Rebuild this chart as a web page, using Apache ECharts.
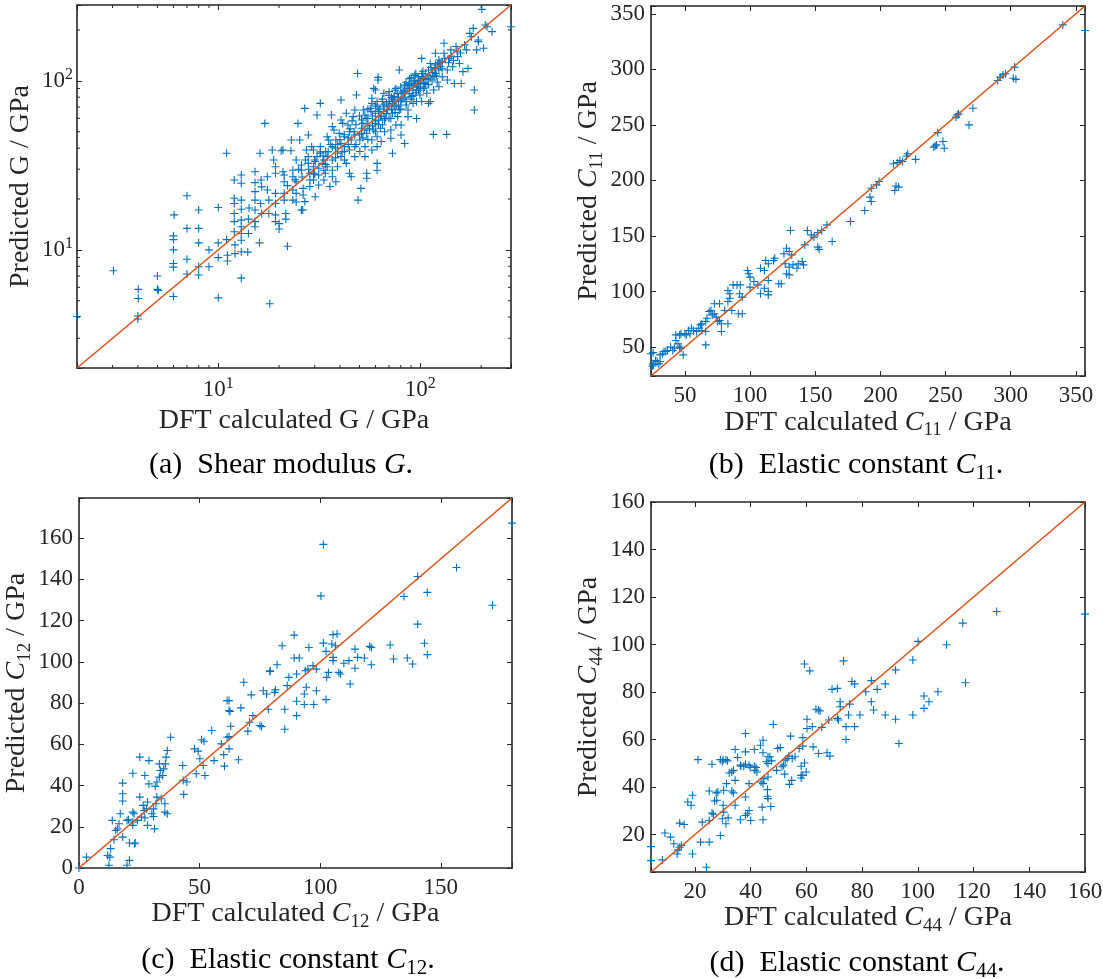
<!DOCTYPE html>
<html><head><meta charset="utf-8">
<script src="https://cdn.jsdelivr.net/npm/echarts@6/dist/echarts.min.js"></script>
<style>html,body{margin:0;padding:0;background:#fff}#c{width:1103px;height:979px}</style>
</head><body><div id="c"></div>
<script>
// ---------------- DATA ----------------
// (a) Shear modulus G : [DFT calculated, predicted] (GPa)
const pointsG = [[2,4.03],[3.03,7.53],[4.02,5.84],[4.02,5.16],[4,4.06],[4,3.9],[5,7],[5,5.84],[5.05,5.75],[6.05,16.1],[6,12.1],[6,11.5],[6,10],[6,8.3],[6,7.9],[6,5.3],[7,20.9],[7,13.4],[7,8.8],[7,7.2],[8,17.2],[8,13.4],[8,11],[8,7.95],[8,7.1],[9,10],[9,7.95],[10,17.8],[10,11],[10,9],[10,5.2],[11,37.3],[11,11.5],[11.1,9.3],[11.1,8.6],[12,25.9],[12,20.2],[12,18.8],[12,16.4],[12,14.7],[12,12.8],[12.1,10.7],[12.1,9.5],[13,27.7],[13,24.8],[13,19.7],[13,17.4],[13,15],[13,13.7],[13,12.5],[13,11.4],[13,9.75],[13,6.8],[14.1,15.2],[14.1,12.5],[14,9.7],[14.2,17.7],[15.2,29],[15.2,25],[15.2,22.1],[15.2,19.7],[15.2,17.2],[15.2,14.7],[15.2,13.7],[16.1,37.3],[16,11],[16.3,25.9],[16.4,23.6],[16.2,18.8],[16.4,16.4],[17,56],[17.5,27.1],[17.5,22.6],[17.8,19.7],[17.8,16.4],[18,4.8],[18.5,39],[18.8,34],[19.2,31],[19.2,28.4],[19.2,21.6],[19.2,18.8],[19.2,16.1],[19.2,14.7],[20,14.3],[20,13.3],[20.5,38.6],[20.9,39],[20.9,29],[21.2,27.7],[21.2,25.3],[21.2,21.6],[21.2,19.7],[21.6,16.4],[21.6,15.2],[22,10.5],[22.9,38.6],[23,44.7],[23.4,29.6],[23.4,27.1],[23.4,22.6],[23.4,19.7],[24.3,34],[24.3,25.3],[24.3,21.6],[24.3,19.2],[24.8,56],[25.3,44.7],[25.8,31.8],[25.8,29.6],[25.8,17.2],[26.2,17.2],[26.3,23.1],[26.3,21.1],[26.8,19.3],[26.8,68.7],[27.3,39],[27.9,47.8],[27.9,35.6],[27.9,32.5],[28.4,28.4],[28.4,25.9],[28.4,23.7],[29,40.8],[29.6,39],[29.6,31],[29.6,28.4],[29.6,25.9],[30.2,20.6],[30.2,33.3],[30.8,35.6],[30.8,62.8],[31.4,30.4],[31.4,27.7],[31.4,24.2],[32,73.6],[32,40.8],[32,37.3],[32.7,32.5],[33.3,29.6],[33.3,34],[33.3,25.9],[33.9,28.4],[34,38.2],[34.6,35.6],[34.6,31],[34.6,46.7],[35.2,44.7],[35.7,23.7],[36.3,62.8],[36.7,53.6],[36.7,40.8],[36.7,34],[36.7,29.6],[36.7,27.1],[37.4,51.2],[38.2,25.3],[38.2,44.7],[38.9,37.3],[38.9,31],[39.7,48.9],[40.5,42.6],[40.5,35.6],[40.5,58.6],[41.3,56],[40.5,77],[42.1,46.7],[42.1,40.8],[42.1,38.2],[42.1,34],[43,32.5],[43,64.3],[43.8,54.8],[44.6,39],[44.6,28.4],[45.5,27.1],[44.6,50],[45.5,44.7],[46.5,61.4],[47.4,67.2],[47.4,47.8],[47.4,40.8],[47.4,35.6],[48.3,82.5],[48.9,110.6],[49.2,19.7],[50.8,23.1],[50.2,44.7],[50.2,38.2],[51.2,58.6],[51.2,52.4],[51.2,49],[52.2,67.2],[53.2,62.8],[53.2,40.8],[53.2,35.6],[54.3,26.5],[54.3,28.4],[54.3,49],[55,54.8],[55,59.9],[56.5,68.7],[57.6,73.6],[57.6,78.9],[57.6,44.7],[57.6,39],[58.8,51.2],[59.9,56],[58.8,90.2],[59.9,88.3],[59.9,64.3],[61.1,70.2],[61.1,75.4],[61.1,46.7],[61.1,40.8],[61.1,29.6],[61.1,32.5],[61.8,104.9],[61.8,101.2],[62.3,58.6],[63.5,52.4],[63.5,61.4],[64,43.8],[64.7,75.4],[66,84.4],[66,72],[66,65.8],[66.5,58.6],[66.5,50],[68.8,67.2],[70,75.4],[70,86.3],[71.5,45.7],[71.5,51.2],[71.5,59.9],[72.8,64.3],[72.8,37.3],[72.8,73.6],[74.3,70.2],[74.3,80.7],[75.7,90.2],[75.7,54.8],[77.2,61.4],[78.7,115.9],[78.7,67.2],[80.3,75.4],[80.3,84.4],[80.3,54.8],[80.3,47.8],[83.6,94.3],[83.6,84.4],[85.2,75.4],[83.6,42.6],[86.9,67.2],[86.9,61.4],[88.5,103],[88.5,90.2],[90.3,80.7],[92.1,73.6],[94,107.8],[94,98.5],[95.8,88.3],[95.8,75.4],[95.8,59.9],[97.7,105.5],[99.6,101.2],[97.7,92.2],[99.6,82.5],[101.6,110.6],[103.5,103],[101.6,75.4],[103.5,90.2],[105.6,96.4],[107.7,84.4],[109.8,73.6],[112,75.4],[109.8,115.9],[112,126.7],[101.6,135.8],[114.3,101.2],[116.4,88.3],[116,48.2],[118.8,145.6],[118.8,124.2],[118.8,110.6],[121.2,98.5],[123.6,92.2],[123.6,132.8],[123.6,115.9],[126,121.2],[128.5,105.5],[128.5,129.8],[131,145.6],[131,166.8],[135,48.2],[136,115.9],[136,101.2],[139,135.8],[141.6,152.4],[144.5,121.2],[147.3,96.4],[150.2,159.6],[153,139],[156,126.7],[159.2,96.4],[162.5,113.3],[165.6,163.2],[169,152.4],[172.2,118.5],[175.8,191],[179,182.4],[182.8,204.5],[185,88.3],[185,67.2],[190,152.4],[193.6,174.4],[193.6,170.5],[201.4,264.8],[205.6,155.9],[209.5,213.8],[213.8,209],[226.5,195.4],[281,209],
  // dense core along the diagonal (estimated from overlapping markers)
  [45,52],[48,55],[50,48],[52,56],[54,60],[56,52],[58,62],[60,58],[62,66],[64,62],[66,70],[68,64],[70,72],[72,68],[74,78],[76,72],[78,80],[80,76],[82,86],[84,80],[86,90],[88,84],[90,94],[92,88],[94,96],[96,92],[98,100],[100,96],[102,106],[104,98],[106,110],[108,102],[110,108],[112,104],[115,112],[118,118],[120,108],[125,128],[55,45],[60,50],[65,55],[70,60],[75,65],[80,68],[85,72],[90,78],[95,85],[100,90],[105,92],[110,95],[46,58],[50,62],[55,68],[60,72],[65,78],[70,82],[75,88],[80,92],[85,98],[90,105],[95,110],[38,40],[40,45],[42,48],[44,42],[35,38],[36,42],[33,36],[30,34],[28,30],[26,27],[24,26],[22,24],[30,28],[34,32],[38,35],[25,30],[27,34],[32,38],[57,66],[63,68],[67,60],[73,76],[77,84],[82,78],[87,94],[93,100],[97,96],[103,114],[113,120],[117,106],[122,126],[128,118],[132,136],[138,128],[142,140],[146,132],[152,150],[158,146],[52,46],[48,42],[44,46],[41,38],[39,42],[47,50],[53,51],[58,54],[62,55],[68,74],[72,80],[78,71],[84,88],[88,96],[92,82],[98,88]];

// (b) Elastic constant C11
const pointsC11 = [[340,340],[357,335],[303,302],[302,292],[304,291],[290,290],[292,293],[294,295],[296,296],[271,265],[268,250],[259,259],[260,260],[258,257],[244,243],[241,230],[242,231],[243,232],[248,235],[249,229],[227,219],[221,224],[220,222],[217,217],[210,215],[213,216],[215,218],[212,195],[214,194],[211,191],[199,199],[197,196],[193,193],[192,185],[193,181],[188,173],[177,163],[163,145],[159,160],[155,155],[152,153],[144,155],[147,151],[149,149],[152,140],[153,138],[142,142],[131,155],[128,139],[130,136],[132,133],[127,125],[130,122],[133,124],[137,125],[140,127],[141,124],[136,121],[128,116],[130,115],[126,134],[122,107],[124,107],[118,128],[119,130],[112,128],[114,125],[111,119],[108,121],[114,110],[114,100],[114,97],[111,103],[108,98],[103,109],[106,106],[99,116],[100,113],[98,119],[100,104],[92.5,106],[90,106],[87,106],[92,98],[94,95],[91,80],[94,80],[83,101],[84.5,98],[84.5,94],[83,91],[86,83],[83,71],[80.5,83],[76.6,89],[72.6,89],[72.6,80],[74,77],[76.6,74],[78,64],[75,73],[78,71],[68.6,82],[71,79],[70,83],[66,73],[67,76],[66,52],[63,71],[62,70],[63,65],[66,64],[60.6,67],[59,64],[56.6,65],[55,67],[54,62],[52.7,65],[51,61],[50,62],[47,62],[46,61],[48.7,43],[46,50],[47,49],[43,61],[43,56],[44.7,53],[42,49],[39,50],[40.7,47],[36.7,47],[35.4,46],[34,46],[32.8,44],[31,43],[31,37],[28.8,37],[30,35],[26,34],[25,33],[24,44],[25.6,45],[27.5,38],[25.6,35]];

// (c) Elastic constant C12
const pointsC12 = [[179.5,167.3],[101.3,157],[100.3,132],[156.5,145.8],[140.4,141.4],[134.7,131.7],[144.4,133.7],[171.4,127.5],[140.4,118.3],[143.2,109],[144.4,103.5],[129,108.2],[130.4,101.4],[136.1,101.9],[138.3,99],[120.5,107.5],[121.2,107],[121.2,98.6],[114.4,106.2],[114.4,96.9],[115.5,102.2],[118.3,101.9],[112.4,89.3],[111.9,100.6],[109.8,99.3],[107.7,94.9],[108.4,94.1],[107,113.5],[105.3,113.2],[104.8,108.7],[106.3,107.8],[101.3,109.1],[102.4,105.1],[105.3,102.2],[105.3,100.6],[102.7,92.5],[103.4,94.9],[102.4,81.7],[98.4,86],[97.3,79.3],[98.4,96.5],[97,98.2],[94.9,96.5],[93.8,95.7],[95.3,107],[91.3,101.9],[89.2,101.9],[89.2,113],[84.2,107.8],[82.1,98.6],[79.2,95.7],[79.2,95.3],[90.2,94.1],[87,92.5],[94.2,87.7],[93.4,84.4],[90.2,80.9],[93.4,79.3],[90.2,73.9],[86.3,88.5],[81.4,86.4],[81.1,85.2],[76.4,86],[77.8,84.4],[85.3,77],[85.3,67.3],[78.5,77],[71.4,84],[68.3,90.1],[67.1,77.7],[72.1,73.9],[75,69.1],[75.7,68.6],[70.7,70.7],[70,66.4],[66.1,52.5],[61.4,81.2],[62.2,81.2],[62.2,76.4],[62.6,75.9],[62.9,68.8],[62.2,63.8],[61.4,63.4],[62.2,57.8],[60,55],[60.3,49.4],[59,60.2],[55,66.7],[56,52.1],[50.8,62.2],[51.8,61.5],[49.4,56.7],[50.1,53],[51.5,49.7],[52.2,44.9],[47.9,57.8],[48.6,45.7],[43,49.7],[43.4,35.7],[44.7,41.7],[43.2,42.5],[38,63.4],[36.6,57],[36.1,53.8],[35.8,50.5],[35.1,48.1],[34.7,44.9],[33.7,47.3],[33.3,50.5],[33.3,44.1],[34.1,33.6],[35.6,31.2],[35.6,27.1],[36.6,26.3],[29,52.1],[25.2,53.8],[27.3,44.9],[32.3,41.7],[31.6,39.6],[29,40.8],[32.3,34.4],[31.9,31.2],[30.9,28.7],[30.2,26.3],[30.9,25],[31.3,19],[28.4,32],[28,28.7],[26.6,30.4],[27,27.9],[25.2,34.4],[27.3,24.4],[28.4,20.7],[25.9,24.7],[24.2,23.1],[22.3,27.1],[22.8,26.3],[22.3,22.3],[22.3,20.7],[22.3,46],[23,11.8],[23.3,12.1],[20.9,12.1],[20.9,3.7],[19.9,1.3],[19.9,23.1],[20.5,23.4],[18.1,41.2],[18.1,36],[18.1,32.5],[18.1,15],[17.1,26.3],[16.6,21.5],[15.9,19],[15.2,18.2],[13.8,23.1],[14.5,13.7],[13.1,9.4],[12.8,5.3],[11.9,6.1],[12.4,1.3],[3.1,5.3],[0,0]];

// (d) Elastic constant C44
const pointsC44 = [[160,112.8],[128.3,113.9],[116.1,109],[117.1,83.9],[110.3,99.9],[100.1,101.3],[98.2,93.5],[98.2,70.3],[107.2,80.1],[104,75.9],[102.2,78.3],[102.2,73.1],[92,89.3],[92,68.5],[93.2,58.3],[88.3,83.4],[88.3,70.3],[85.4,81.1],[84.1,72.4],[83.3,75.9],[83.3,84.8],[81.3,80.1],[79.2,70.3],[77.3,83.4],[76.3,84.4],[77.3,65.4],[75.1,70.3],[75.5,74.9],[74.2,60],[74.2,65.4],[73.3,93.1],[72.1,75.9],[72.1,73.8],[71.1,81.5],[71.1,68.9],[71.5,68.2],[69.2,81.1],[68,68.2],[68.4,53],[67.4,54.4],[64.3,72.4],[64.9,72],[63.4,72.7],[65.5,65.1],[64.3,54.1],[62.4,56.9],[62.1,65.4],[61.2,88.9],[59.3,91.8],[60.2,68.5],[60.2,64.6],[58.7,60.8],[58.7,57.2],[59.3,50.1],[59.9,46.3],[58.1,48.7],[58.1,44.9],[58.1,43.8],[58.7,44.9],[57.4,56.2],[55.9,52.7],[54.9,52],[54.3,61.4],[54.7,42.8],[53.9,41.1],[53.7,53],[53.1,52],[52.4,51.3],[52.2,45.4],[51.2,48.5],[51.8,49.2],[50.6,56.6],[49.7,56.2],[49.3,47],[48.1,66.3],[46.9,52.7],[47.5,51],[46.2,52.7],[46.2,49.9],[45.6,50.6],[46.2,44.2],[46,38.9],[46.2,35.1],[46,36.1],[47.2,31.8],[44.4,59.7],[43.5,57.6],[44.7,43.5],[43.7,42.1],[44.4,41.4],[44.1,31.5],[44.4,26.2],[44.4,54.4],[41.3,55.8],[41.3,48.7],[41.9,48.2],[42.2,46.3],[41.5,47],[39.4,49.2],[39.8,48.2],[38.1,62.5],[38.1,54.8],[37.5,48.7],[38.1,49.6],[36.3,49.2],[36.5,48.7],[39.4,41.4],[38.1,35.8],[39.4,30.1],[38.8,28.7],[38.1,28],[40,25.9],[36.3,26.2],[34.4,55.8],[35.3,52.4],[33.8,47],[33.2,46.3],[32.3,45.9],[34.4,42.8],[33.2,38.3],[33.8,37.5],[34.4,32.3],[31.1,51.5],[31.7,51],[30.1,51.5],[29.8,50.6],[29.1,51.5],[31.3,41.4],[31.9,27],[31.1,24.5],[30.1,32.3],[30.3,29.4],[29.8,26.6],[30.3,38.6],[28.2,37.9],[27.6,37.5],[27.8,34.4],[27,34.1],[26.1,49.6],[26.1,29],[26.6,28.5],[25.1,38.3],[29.1,19.6],[25.1,25.9],[25.1,16.8],[24.1,6.2],[22.6,25.2],[22,16.8],[21.1,51.5],[19.1,36.5],[18.6,32.3],[17.4,33.7],[19.1,11.8],[16.1,24.2],[14.5,24.8],[14.5,14.6],[13.9,13.5],[13.6,11.8],[12.4,16.1],[11.2,18.9],[9.2,20.6],[8.3,9.3],[4.2,14.9],[4.2,9],[15.1,15.4]];

// log-axis minor tick values for panel (a)
const minorTicksG = [3,4,5,6,7,8,9,20,30,40,50,60,70,80,90,200];

// ---------------- STYLE / LAYOUT ----------------
const FONT = "'Liberation Serif','DejaVu Serif','Times New Roman',serif";
const TXT = '#262626';
const BLUE = '#0072BD';
const ORANGE = '#D95319';
const PLUS = 'path://M5,0L5,10M0,5L10,5';
const NAME_FS = 28, TICK_FS = 23, CAP_FS = 30;

const panels = [
  {pts: pointsG, log: true, grid: {left: 77, top: 5, width: 434, height: 363},
   xName: 'DFT calculated G / GPa', yName: 'Predicted G / GPa', xGap: 39, yGap: 42,
   caption: '(a)  Shear modulus {i|G}.', cap: [281, 465]},
  {pts: pointsC11, grid: {left: 651, top: 6, width: 434, height: 370},
   xSplit: 7, ySplit: 7, xStep: 50, yStep: 50,
   xName: 'DFT calculated {i|C}{s|11} / GPa', yName: 'Predicted {i|C}{s|11} / GPa', xGap: 29, yGap: 39,
   caption: '(b)  Elastic constant {i|C}{s|11}.', cap: [856, 465]},
  {pts: pointsC12, grid: {left: 79, top: 498, width: 433, height: 370},
   xSplit: 4, ySplit: 8, xStep: 50, yStep: 20,
   xName: 'DFT calculated {i|C}{s|12} / GPa', yName: 'Predicted {i|C}{s|12} / GPa', xGap: 27, yGap: 40,
   caption: '(c)  Elastic constant {i|C}{s|12}.', cap: [288, 960]},
  {pts: pointsC44, grid: {left: 651, top: 502, width: 434, height: 370},
   xSplit: 8, ySplit: 8, xStep: 20, yStep: 20,
   xName: 'DFT calculated {i|C}{s|44} / GPa', yName: 'Predicted {i|C}{s|44} / GPa', xGap: 27, yGap: 39,
   caption: '(d)  Elastic constant {i|C}{s|44}.', cap: [857, 963]}
];

const nameRich = {
  i: {fontFamily: FONT, fontSize: NAME_FS, fontStyle: 'italic', color: TXT},
  s: {fontFamily: FONT, fontSize: 19, color: TXT, padding: [16, 0, 0, 0]}
};
const capRich = {
  i: {fontFamily: FONT, fontSize: CAP_FS, fontStyle: 'italic', color: '#000'},
  s: {fontFamily: FONT, fontSize: 21, color: '#000', padding: [17, 0, 0, 0]}
};

function linFmt(step) {
  return v => (Math.abs(v / step - Math.round(v / step)) < 1e-6) ? String(Math.round(v)) : '';
}
function logFmt(v) {
  const e = Math.log10(v);
  return Math.abs(e - Math.round(e)) < 1e-6 ? '10{s|' + Math.round(e) + '}' : '';
}

const option = {animation: false, grid: [], xAxis: [], yAxis: [], series: [], graphic: []};

panels.forEach((p, i) => {
  const all = p.pts.flat();
  const lo = Math.min(...all), hi = Math.max(...all);
  option.grid.push(Object.assign({containLabel: false, outerBoundsMode: 'none'}, p.grid));

  const common = {
    gridIndex: i, type: p.log ? 'log' : 'value', min: lo, max: hi,
    splitLine: {show: false}, minorTick: {show: false},
    axisLine: {show: true, onZero: false, lineStyle: {color: TXT, width: 1.6}},
    axisTick: {show: true, inside: true, length: 5, lineStyle: {color: TXT, width: 1}}
  };
  if (p.log) common.logBase = 10;
  const labelBase = {
    color: TXT, fontFamily: FONT, fontSize: TICK_FS,
    rich: {s: {fontFamily: FONT, fontSize: 16, color: TXT, padding: [0, 0, 12, 0]}}
  };
  const nameStyle = {color: TXT, fontFamily: FONT, fontSize: NAME_FS, rich: nameRich};

  option.xAxis.push(Object.assign({}, common, {
    position: 'bottom', splitNumber: p.xSplit,
    axisLabel: Object.assign({}, labelBase, {margin: 8, formatter: p.log ? logFmt : linFmt(p.xStep)}),
    name: p.xName, nameLocation: 'middle', nameGap: p.xGap, nameTextStyle: nameStyle
  }));
  option.xAxis.push(Object.assign({}, common, {
    position: 'top', splitNumber: p.xSplit, axisLabel: {show: false}
  }));
  option.yAxis.push(Object.assign({}, common, {
    position: 'left', splitNumber: p.ySplit,
    axisLabel: Object.assign({}, labelBase, {margin: p.log ? 4 : 6, formatter: p.log ? logFmt : linFmt(p.yStep)}),
    name: p.yName, nameLocation: 'middle', nameGap: p.yGap, nameRotate: 90, nameTextStyle: nameStyle
  }));
  option.yAxis.push(Object.assign({}, common, {
    position: 'right', splitNumber: p.ySplit, axisLabel: {show: false}
  }));

  option.series.push({
    type: 'scatter', xAxisIndex: 2 * i, yAxisIndex: 2 * i, data: p.pts,
    symbol: PLUS, symbolSize: 8, clip: false, silent: true, z: 2,
    itemStyle: {color: 'rgba(0,0,0,0)', borderColor: BLUE, borderWidth: 1.1, opacity: 1}
  });
  option.series.push({
    type: 'line', xAxisIndex: 2 * i, yAxisIndex: 2 * i, data: [[lo, lo], [hi, hi]],
    symbol: 'none', showSymbol: false, silent: true, z: 3,
    lineStyle: {color: ORANGE, width: 1.6}
  });
  if (p.log) {
    option.series.push({
      type: 'custom', xAxisIndex: 2 * i, yAxisIndex: 2 * i, silent: true, z: 4,
      data: minorTicksG.map(v => [v, v]),
      renderItem: (params, api) => {
        const v = api.value(0);
        const cs = params.coordSys;
        const px = api.coord([v, lo])[0];
        const py = api.coord([lo, v])[1];
        const L = 3, st = {stroke: TXT, lineWidth: 1};
        const b = cs.y + cs.height, r = cs.x + cs.width;
        return {type: 'group', children: [
          {type: 'line', shape: {x1: px, y1: b, x2: px, y2: b - L}, style: st},
          {type: 'line', shape: {x1: px, y1: cs.y, x2: px, y2: cs.y + L}, style: st},
          {type: 'line', shape: {x1: cs.x, y1: py, x2: cs.x + L, y2: py}, style: st},
          {type: 'line', shape: {x1: r, y1: py, x2: r - L, y2: py}, style: st}
        ]};
      }
    });
  }
  option.graphic.push({
    type: 'text', x: p.cap[0], y: p.cap[1], silent: true,
    style: {text: p.caption, fontFamily: FONT, fontSize: CAP_FS, fill: '#000',
      align: 'center', verticalAlign: 'middle', textAlign: 'center', textVerticalAlign: 'middle', rich: capRich}
  });
});

const chart = echarts.init(document.getElementById('c'), null, {renderer: 'canvas'});
chart.setOption(option);
</script>
</body></html>
